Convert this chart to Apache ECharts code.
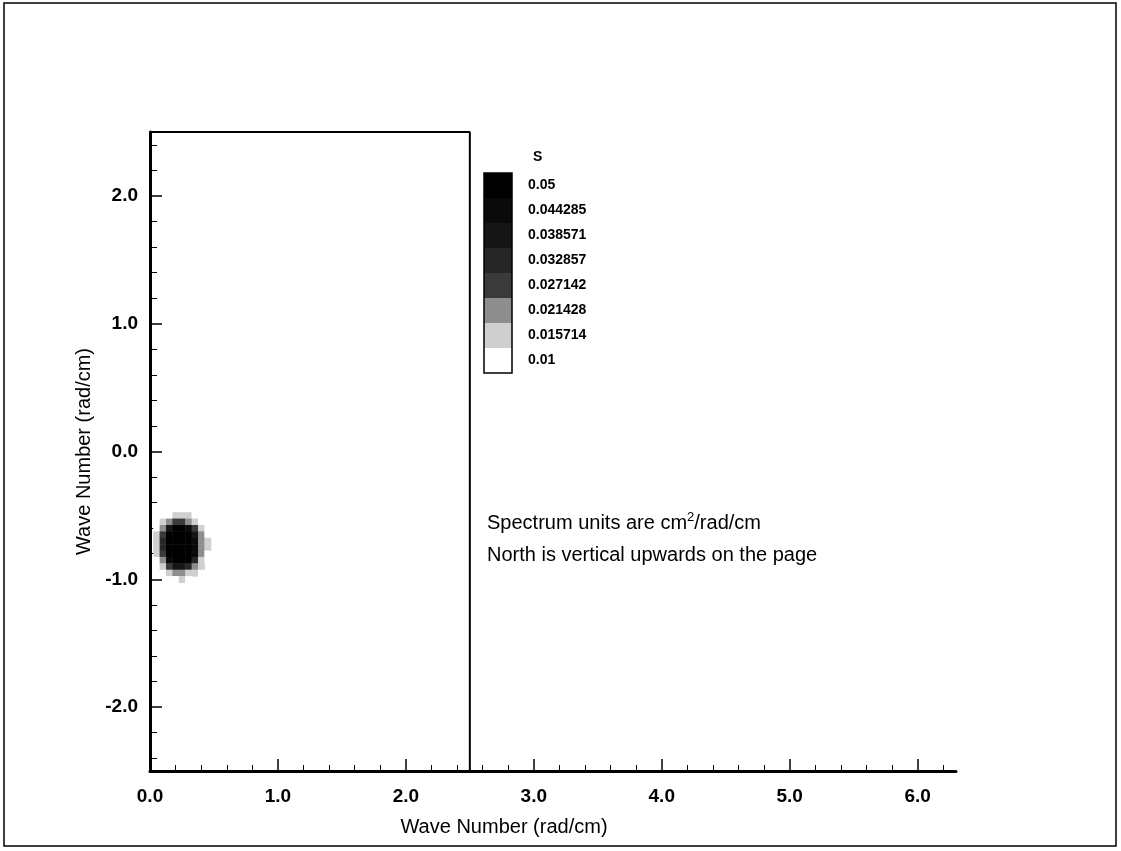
<!DOCTYPE html>
<html>
<head>
<meta charset="utf-8">
<title>Wave number spectrum</title>
<script src="https://cdn.jsdelivr.net/npm/echarts@6/dist/echarts.min.js"></script>
<style>
    html, body { margin: 0; padding: 0; background: #fff; }
    #chart { width: 1121px; height: 851px; }
</style>
</head>
<body>
<div id="chart"></div>
<script>
// spectrum grid (cell centres, rad/cm)
const kxCells = [0.05, 0.10, 0.15, 0.20, 0.25, 0.30, 0.35, 0.40, 0.45];
const kyCells = [-0.50, -0.55, -0.60, -0.65, -0.70, -0.75, -0.80, -0.85, -0.90, -0.95, -1.00];
const cellStep = 0.05;
// one row per kyCells entry, one column per kxCells entry
const spectrum = [
    [0,     0.006, 0.012, 0.017, 0.018, 0.016, 0.011, 0.005, 0],
    [0.008, 0.016, 0.022, 0.028, 0.030, 0.026, 0.020, 0.013, 0.005],
    [0.014, 0.024, 0.040, 0.052, 0.055, 0.048, 0.030, 0.020, 0.010],
    [0.018, 0.030, 0.055, 0.062, 0.065, 0.060, 0.042, 0.024, 0.014],
    [0.020, 0.034, 0.058, 0.068, 0.070, 0.064, 0.048, 0.026, 0.016],
    [0.020, 0.035, 0.058, 0.070, 0.072, 0.066, 0.050, 0.027, 0.017],
    [0.018, 0.032, 0.055, 0.066, 0.068, 0.062, 0.046, 0.025, 0.015],
    [0.014, 0.026, 0.046, 0.058, 0.060, 0.052, 0.036, 0.021, 0.011],
    [0.010, 0.019, 0.030, 0.040, 0.042, 0.036, 0.024, 0.016, 0.007],
    [0.005, 0.012, 0.018, 0.022, 0.023, 0.020, 0.016, 0.010, 0],
    [0,     0.006, 0.010, 0.014, 0.016, 0.013, 0.008, 0,     0]
];

// contour levels of the legend (S) and their fills
const levelValues = [0.01, 0.015714, 0.021428, 0.027142, 0.032857, 0.038571, 0.044285, 0.05];
const levelColors = ['#ffffff', '#cfcfcf', '#8e8e8e', '#3a3a3a', '#262626', '#161616', '#0a0a0a', '#000000'];

// edge of the computed spectrum domain
const domainEdge = [[0, 2.5], [2.5, 2.5], [2.5, -2.5]];

// axes
const xRange = [0, 6.3];
const yRange = [-2.5, 2.5];
const xMajor = [0, 1, 2, 3, 4, 5, 6];
const xMinor = [0.2, 0.4, 0.6, 0.8, 1.2, 1.4, 1.6, 1.8, 2.2, 2.4, 2.6, 2.8, 3.2, 3.4, 3.6, 3.8,
    4.2, 4.4, 4.6, 4.8, 5.2, 5.4, 5.6, 5.8, 6.2];
const yMajor = [-2, -1, 0, 1, 2];
const yMinor = [-2.4, -2.2, -1.8, -1.6, -1.4, -1.2, -0.8, -0.6, -0.4, -0.2,
    0.2, 0.4, 0.6, 0.8, 1.2, 1.4, 1.6, 1.8, 2.2, 2.4];

const FONT = 'Liberation Sans, Arial, sans-serif';

let cells = [];
kyCells.forEach((ky, r) => {
    kxCells.forEach((kx, c) => {
        cells.push([kx, ky, spectrum[r][c]]);
    });
});

let pieces = levelValues.map((v, i) => ({
    min: v,
    max: i < levelValues.length - 1 ? levelValues[i + 1] : Infinity,
    label: String(v),
    color: levelColors[i]
}));

const majorTickStyle = { color: '#000', width: 1.5 };

let option = {
    animation: false,
    backgroundColor: '#fff',
    textStyle: { fontFamily: FONT, color: '#000' },
    grid: { left: 150, top: 132, right: 165, bottom: 80, containLabel: false },
    title: [
        {
            text: 'S',
            left: 533, top: 150, padding: 0,
            textStyle: { fontFamily: FONT, fontSize: 14, fontWeight: 'bold', color: '#000' }
        },
        {
            text: 'Spectrum units are cm{sup|2}/rad/cm\nNorth is vertical upwards on the page',
            left: 487, top: 507, padding: 0,
            textStyle: {
                fontFamily: FONT, fontSize: 20, fontWeight: 'normal', color: '#000', lineHeight: 32,
                rich: {
                    sup: { fontFamily: FONT, fontSize: 13, color: '#000', verticalAlign: 'middle', lineHeight: 14, padding: [0, 0, 12, 0] }
                }
            }
        }
    ],
    visualMap: {
        type: 'piecewise',
        seriesIndex: 0,
        dimension: 2,
        pieces: pieces,
        orient: 'vertical',
        left: 484, top: 173, padding: 0,
        itemWidth: 28, itemHeight: 25, itemGap: 0, itemSymbol: 'rect',
        textGap: 16,
        showLabel: true,
        selectedMode: false,
        hoverLink: false,
        outOfRange: { color: 'rgba(0,0,0,0)' },
        textStyle: { fontFamily: FONT, fontSize: 14, fontWeight: 'bold', color: '#000' }
    },
    xAxis: [
        {
            type: 'value', min: xRange[0], max: xRange[1], position: 'bottom',
            name: 'Wave Number (rad/cm)', nameLocation: 'middle', nameGap: 46,
            nameTextStyle: { fontFamily: FONT, fontSize: 20, color: '#000', padding: [0, 98, 0, 0] },
            axisLine: { onZero: false, lineStyle: { color: '#000', width: 3 } },
            axisTick: { inside: true, length: 12, customValues: xMajor, lineStyle: majorTickStyle },
            axisLabel: {
                customValues: xMajor, margin: 16, fontFamily: FONT, fontSize: 19, fontWeight: 'bold', color: '#000',
                formatter: v => v.toFixed(1)
            },
            splitLine: { show: false }
        },
        {
            type: 'value', min: xRange[0], max: xRange[1], position: 'bottom',
            axisLine: { show: false, onZero: false },
            axisTick: { inside: true, length: 6, customValues: xMinor, lineStyle: { color: '#000', width: 1 } },
            axisLabel: { show: false },
            splitLine: { show: false }
        }
    ],
    yAxis: [
        {
            type: 'value', min: yRange[0], max: yRange[1], position: 'left',
            name: 'Wave Number (rad/cm)', nameLocation: 'middle', nameGap: 47,
            nameTextStyle: { fontFamily: FONT, fontSize: 20, color: '#000' },
            axisLine: { onZero: false, lineStyle: { color: '#000', width: 3 } },
            axisTick: { inside: true, length: 12, customValues: yMajor, lineStyle: majorTickStyle },
            axisLabel: {
                customValues: yMajor, margin: 12, fontFamily: FONT, fontSize: 19, fontWeight: 'bold', color: '#000',
                formatter: v => v.toFixed(1)
            },
            splitLine: { show: false }
        },
        {
            type: 'value', min: yRange[0], max: yRange[1], position: 'left',
            axisLine: { show: false, onZero: false },
            axisTick: { inside: true, length: 7, customValues: yMinor, lineStyle: { color: '#000', width: 1 } },
            axisLabel: { show: false },
            splitLine: { show: false }
        }
    ],
    series: [
        {
            type: 'custom',
            name: 'S',
            xAxisIndex: 0, yAxisIndex: 0,
            data: cells,
            renderItem: (params, api) => {
                let p = api.coord([api.value(0), api.value(1)]);
                let s = api.size([cellStep, cellStep]);
                return {
                    type: 'rect',
                    shape: { x: p[0] - s[0] / 2, y: p[1] - s[1] / 2, width: s[0] + 0.5, height: s[1] + 0.5 },
                    style: { fill: api.visual('color') }
                };
            }
        },
        {
            type: 'line',
            name: 'domain',
            xAxisIndex: 0, yAxisIndex: 0,
            data: domainEdge,
            symbol: 'none',
            clip: false,
            lineStyle: { color: '#000', width: 2 }
        }
    ],
    graphic: [
        {
            type: 'rect', silent: true,
            shape: { x: 4, y: 3, width: 1112, height: 843 },
            style: { fill: 'none', stroke: '#000', lineWidth: 1.5 }
        },
        {
            type: 'rect', silent: true, z: 100,
            shape: { x: 484, y: 173, width: 28, height: 200 },
            style: { fill: 'none', stroke: '#000', lineWidth: 1.5 }
        }
    ]
};

let chart = echarts.init(document.getElementById('chart'));
chart.setOption(option);
</script>
</body>
</html>
